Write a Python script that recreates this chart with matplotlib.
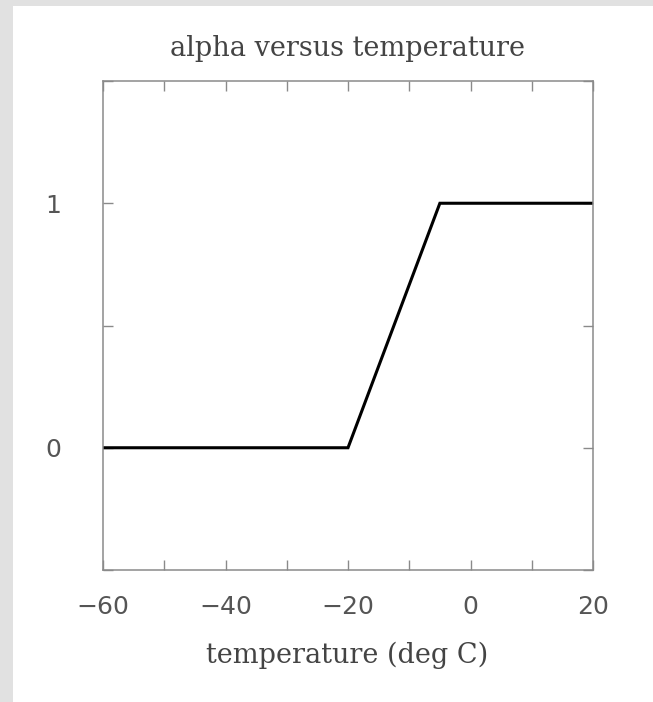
import numpy as np
import matplotlib
matplotlib.use('Agg')
import matplotlib.pyplot as plt
from matplotlib.patches import Rectangle
from matplotlib.ticker import MultipleLocator

# piecewise alpha(T)
temp = [-60, -20, -5, 20]
alpha = [0, 0, 1, 1]
xticks = [-60, -40, -20, 0, 20]
yticks = [0, 1]

W, H = 653, 702
fig = plt.figure(figsize=(W / 100, H / 100), dpi=100, facecolor='white')

# light gray frame on the left and top edges
fig.patches.append(Rectangle((0, 0), 13 / W, 1, transform=fig.transFigure,
                             fc='#e1e1e1', ec='none', zorder=0))
fig.patches.append(Rectangle((0, 1 - 6 / H), 1, 6 / H, transform=fig.transFigure,
                             fc='#e1e1e1', ec='none', zorder=0))

ax = fig.add_axes([103 / W, 1 - 570 / H, 490 / W, 489 / H])
ax.plot(temp, alpha, color='black', lw=2.2, solid_joinstyle='miter')
ax.set_xlim(-60, 20)
ax.set_ylim(-0.5, 1.5)

ax.set_xticks(xticks)
ax.set_yticks(yticks)
ax.set_xticklabels([f'{v}'.replace('-', '\u2212') for v in xticks])
ax.set_yticklabels([str(v) for v in yticks])
ax.xaxis.set_minor_locator(MultipleLocator(10))
ax.yaxis.set_minor_locator(MultipleLocator(0.5))

tick_c = '#8a8a8a'
ax.tick_params(which='both', direction='in', top=True, right=True,
               length=7, width=1.0, color=tick_c)
ax.tick_params(axis='x', which='major', pad=18, labelsize=18, labelcolor='#555555')
ax.tick_params(axis='y', which='major', pad=30, labelsize=18, labelcolor='#555555')
for lab in ax.get_xticklabels() + ax.get_yticklabels():
    lab.set_family('DejaVu Sans')
for s in ax.spines.values():
    s.set_color(tick_c)
    s.set_linewidth(1.1)

serif = 'DejaVu Serif'
fig.text(347 / W, 1 - 49 / H, 'alpha versus temperature', ha='center', va='center',
         family=serif, fontsize=19.5, color='#444444')
fig.text(347 / W, 1 - 655 / H, 'temperature (deg C)', ha='center', va='center',
         family=serif, fontsize=19.5, color='#444444')

fig.savefig('out.png', dpi=100, facecolor='white')
